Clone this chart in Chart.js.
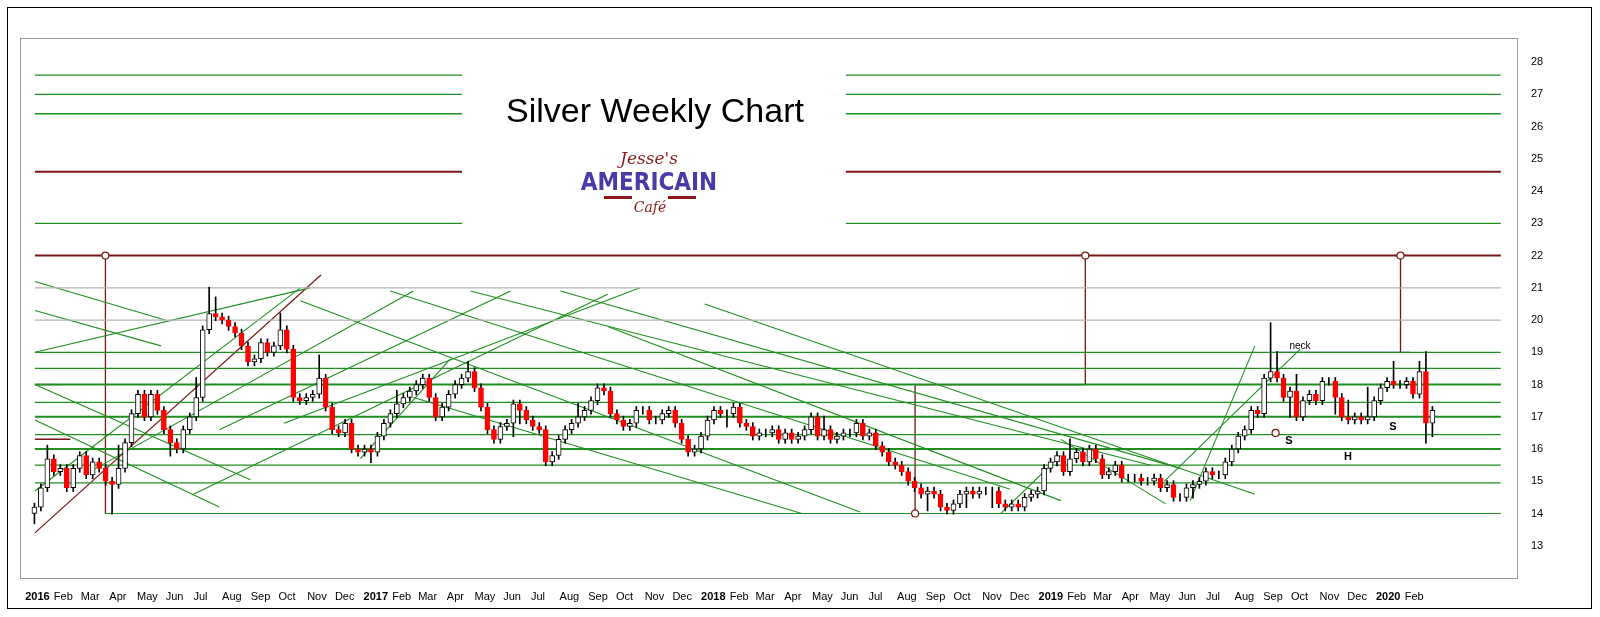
<!DOCTYPE html>
<html><head><meta charset="utf-8">
<script src="https://cdn.jsdelivr.net/npm/chart.js@4.4.0/dist/chart.umd.min.js"></script>
<style>html,body{margin:0;padding:0;background:#fff}#w{width:1600px;height:617px}</style>
</head><body><div id="w"><canvas id="c"></canvas></div>
<script>
// weekly closes, first week ends 11 Jan 2016
const closes = [
14.2,14.8,15.7,15.3,15.4, 14.8,15.4,15.8,15.2, 15.6,15.4,15.0,14.9, 15.4,16.2,17.1,17.7,17.0, 17.7,17.2,16.6,16.2, 16.0,16.6,17.0,17.6, 19.7,20.2,20.1,20.0,19.8, 19.6,19.2,18.7,18.8, 19.3,19.0,19.2,19.7,19.1, 17.6,17.5,17.6,17.7, 18.2,17.3,16.6,16.5, 16.8,16.0,15.9,16.0,15.9,
16.4,16.8,17.1,17.4, 17.6,17.8,18.0,18.2, 17.6,17.0,17.3,17.7,18.0, 18.2,18.4,17.9,17.3, 16.6,16.3,16.7,16.8, 17.4,17.2,16.9,16.7,16.6, 15.6,15.8,16.3,16.6, 16.8,17.0,17.2,17.5, 17.9,17.8,17.1,16.9,16.7, 16.8,17.2,17.2,16.9, 16.9,17.1,17.2,16.8, 16.3,15.9,16.0,16.4,16.9,
17.2,17.1,17.1,17.3, 16.8,16.7,16.4,16.5, 16.5,16.6,16.3,16.5,16.3, 16.4,16.6,17.0,16.4, 16.6,16.3,16.4,16.5, 16.5,16.8,16.4,16.5,16.1, 15.9,15.6,15.5,15.3, 15.0,14.8,14.6,14.7,14.6, 14.2,14.1,14.3,14.6, 14.7,14.6,14.7,14.7, 14.7,14.3,14.2,14.3,14.2, 14.5,14.6,14.7,15.4,
15.6,15.8,15.3,15.7, 15.9,15.6,16.0,15.7, 15.2,15.3,15.5,15.1,15.1, 15.1,15.0,15.0,15.1, 14.8,14.9,14.5,14.5,14.8, 14.9,15.0,15.3,15.2, 15.2,15.6,16.0,16.4, 16.6,17.2,17.1,18.2,18.4, 18.2,17.6,17.8,17.0, 17.5,17.7,17.5,18.1, 18.1,17.6,17.0,16.9,17.0, 16.9,17.0,17.5,17.9,
18.1,18.0,18.0,18.1,17.7, 18.4,16.8,17.2];
const firstOpen = 14.0;
const firstWeek = '2016-01-11';
// extra wick length beyond body for the visible spikes (typed estimates)
const spikeHigh = {2:0.3,13:0.6,25:0.5,27:0.7,28:0.4,38:0.4,44:0.6,56:0.3,67:0.2,84:0.3,122:0.3,160:0.5,191:1.4,192:0.5,195:0.4,203:0.4,206:0.8,210:0.5,214:0.2,215:0.5};
const spikeLow = {0:0.2,12:0.8,21:0.3,52:0.2,74:0.3,75:0.3,107:0.3,138:0.4,144:0.3,148:0.4,179:0.2,194:0.5,201:0.4,215:0.5,216:0.3};

const greenLevels = [14.0,14.95,15.5,16.0,16.45,17.0,17.45,18.0,18.5,19.0];
const thickGreen = [16.0,17.0,18.0];
const greyLevels = [20.0,21.0];
const topGreen = [23.0,26.4,27.0,27.6];
const redLevels = [22.0];
const topRed = [24.6];
// trend lines [weeks since 1 Jan 2016, price, weeks, price]
const trendGreen = [
 [1.5,21.2,21.6,20.0],[1.5,20.3,21.0,19.2],[1.5,14.7,42.5,21.0],[1.5,18.0,34.8,15.05],
 [56.4,20.9,152.2,14.75],[68.8,20.9,173.9,15.5],[42.5,20.6,129,14.05],[82.7,20.9,178.5,15.4],
 [51.8,15.7,65.7,18.8],[150.7,14.0,160,15.8],[180,14.4,190,19.2],[160,16.3,176.2,14.3],
 [1.5,19.0,44,21.0],[10,15.3,60,20.9],[30,16.6,75,20.9],[40,16.8,95,21.0],[26,14.6,90,20.8],
 [1.5,16.9,30,14.2],[90,19.8,160,14.4],[60,17.6,120,14.0],[105,20.5,190,14.6],[176,15.0,197,19.1]];
const trendRed = [[1.5,13.4,45.7,21.4]];
const markers = [[12.4,22],[163.8,22],[137.5,14],[212.5,22],[193.2,16.5]];

const WEEK=6048e5, t0=Date.UTC(2016,0,1);
const w0=(Date.parse(firstWeek)-t0)/WEEK;
const opens=[],highs=[],lows=[];
closes.forEach((c,i)=>{const o=i?closes[i-1]:firstOpen;opens.push(o);
 highs.push(Math.max(o,c)+0.12+(spikeHigh[i]||0));lows.push(Math.min(o,c)-0.12-(spikeLow[i]||0));});

const GREEN='#1f8f1f', DRED='#7a1515';
const ds=[];
const seg=(x1,y1,x2,y2,col,w,dash)=>ds.push({type:'line',data:[{x:x1,y:y1},{x:x2,y:y2}],borderColor:col,borderWidth:w,pointRadius:0,borderDash:dash||[],order:5});
const L=1.5,R=228;
greenLevels.forEach(v=>seg(v==14?12.4:L,v,R,v,GREEN,thickGreen.includes(v)?2:1.2));
greyLevels.forEach(v=>seg(L,v,R,v,'#b5b5b5',1.2));
topGreen.forEach(v=>{seg(L,v,67.5,v,GREEN,1.3);seg(126.8,v,R,v,GREEN,1.3);});
topRed.forEach(v=>{seg(L,v,67.5,v,DRED,2);seg(126.8,v,R,v,DRED,2);});
redLevels.forEach(v=>seg(L,v,R,v,DRED,2));
seg(L,18.0,5.5,18.0,DRED,1.2);seg(L,16.3,7,16.3,DRED,1.5);
trendGreen.forEach(t=>seg(t[0],t[1],t[2],t[3],GREEN,1.1));
trendRed.forEach(t=>seg(t[0],t[1],t[2],t[3],DRED,1.2));
seg(12.4,22,12.4,14,DRED,1.3);
seg(163.8,22,163.8,18,DRED,1.3);seg(163.8,18,137.5,18,DRED,1.3);seg(137.5,18,137.5,14,DRED,1.3);
seg(212.5,22,212.5,19,DRED,1.3);
seg(193.2,19,214,19,'#3a3aff',1.3);
ds.push({type:'scatter',data:markers.map(m=>({x:m[0],y:m[1]})),pointStyle:'circle',pointRadius:3.5,backgroundColor:'#fff',borderColor:DRED,borderWidth:1.2,order:-1});
ds.push({type:'bar',data:closes.map((c,i)=>({x:w0+i,y:[lows[i],highs[i]]})),backgroundColor:'#000',barThickness:1,grouped:false,order:2});
ds.push({type:'bar',data:closes.map((c,i)=>({x:w0+i,y:[opens[i],c]})),
 backgroundColor:closes.map((c,i)=>c<opens[i]?'#ff0000':'#ffffff'),
 borderColor:closes.map((c,i)=>c<opens[i]?'#ff0000':'#000000'),borderWidth:1,borderSkipped:false,barThickness:5,grouped:false,order:1});

const MON=['Jan','Feb','Mar','Apr','May','Jun','Jul','Aug','Sep','Oct','Nov','Dec'];
const monthTicks=[];
for(let y=2016;y<=2020;y++)for(let m=0;m<12;m++){if(y==2020&&m>1)break;
 monthTicks.push({value:(Date.UTC(y,m,1)-t0)/WEEK,label:m==0?String(y):MON[m],year:m==0});}

const deco={id:'deco',afterDraw(ch){const c=ch.ctx,a=ch.chartArea;c.save();
 c.strokeStyle='#000';c.lineWidth=1;c.strokeRect(7.5,7.5,1584,601);
 c.strokeStyle='#999';c.strokeRect(a.left+0.5,a.top+0.5,a.right-a.left,a.bottom-a.top);
 c.fillStyle='#000';c.font='34px Arial, "Liberation Sans"';c.textAlign='center';c.textBaseline='middle';
 c.fillText('Silver Weekly Chart',655,113);
 c.fillStyle='#8a1a1a';c.font='italic 17px "DejaVu Serif"';c.fillText("Jesse's",649,160);
 c.fillStyle='#4a3aa8';c.font='bold 24px "DejaVu Sans Condensed", "Liberation Sans Narrow"';c.fillText('AMERICAIN',649,184);
 c.fillStyle='#8a1a1a';c.font='italic 14px "DejaVu Serif"';c.fillText('Café',650,208);
 c.fillRect(604,196,28,3);c.fillRect(668,196,28,3);
 c.fillStyle='#000';c.font='10px Arial';c.fillText('neck',1300,346);
 c.font='bold 11px Arial';c.fillText('S',1289,441);c.fillText('H',1348,457);c.fillText('S',1393,427);
 c.restore();}};

new Chart(document.getElementById('c'),{data:{datasets:ds},plugins:[deco],
 options:{responsive:true,maintainAspectRatio:false,animation:false,
 layout:{padding:{top:38,left:20,right:10,bottom:0}},
 plugins:{legend:{display:false},tooltip:{enabled:false}},
 scales:{
  x:{type:'linear',offset:false,min:-0.8,max:230.5,grid:{display:false},border:{display:true,color:'#000'},
   afterBuildTicks(s){s.ticks=monthTicks.map(t=>({value:t.value}));},
   afterFit(s){s.height=39;},
   ticks:{autoSkip:false,maxRotation:0,align:'start',color:'#000',padding:4,
    callback:(v)=>{const t=monthTicks.find(m=>Math.abs(m.value-v)<1e-6);return t?t.label:'';},
    font:(ctx)=>{const t=ctx.tick&&monthTicks.find(m=>Math.abs(m.value-ctx.tick.value)<1e-6);return {size:11,family:'Arial',weight:t&&t.year?'bold':'normal'};}}},
  y:{position:'right',min:12,max:28.75,grid:{display:false},border:{display:false},
   afterFit(s){s.width=73;},
   ticks:{stepSize:1,color:'#000',font:{size:11,family:'Arial'},padding:6,callback:v=>v>=13&&Number.isInteger(v)?v:''}}}}});
</script></body></html>
